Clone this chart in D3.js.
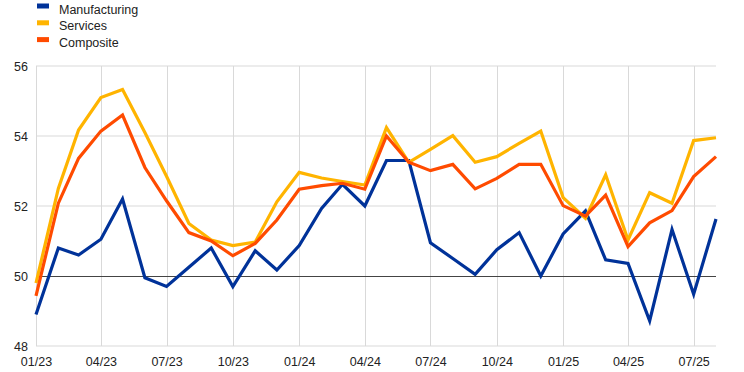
<!DOCTYPE html>
<html>
<head>
<meta charset="utf-8">
<script src="https://cdn.jsdelivr.net/npm/d3@7"></script>
<style>
  body { margin: 0; background: #fff; }
  svg { display: block; font-family: "Liberation Sans", Arial, sans-serif; }
</style>
</head>
<body>
<svg width="744" height="372"></svg>
<script>
// monthly, Jan 2023 - Aug 2025
const months = d3.timeMonths(new Date(2023, 0, 1), new Date(2025, 8, 1));
const manufacturing = [48.9, 50.8, 50.6, 51.05, 52.2, 49.95, 49.7, 50.25, 50.8, 49.7, 50.72, 50.17,
  50.87, 51.93, 52.62, 52.0, 53.3, 53.3, 50.95, 50.5, 50.05, 50.75, 51.24, 50.0,
  51.2, 51.86, 50.46, 50.36, 48.72, 51.33, 49.48, 51.63];
const services = [49.8, 52.5, 54.17, 55.1, 55.33, 54.1, 52.85, 51.5, 51.03, 50.87, 50.97, 52.12,
  52.96, 52.8, 52.7, 52.6, 54.24, 53.25, 53.62, 54.01, 53.25, 53.41, 53.79, 54.14,
  52.24, 51.65, 52.89, 51.03, 52.38, 52.08, 53.87, 53.95];
const composite = [49.43, 52.08, 53.36, 54.14, 54.6, 53.1, 52.15, 51.24, 51.0, 50.58, 50.93, 51.6,
  52.48, 52.58, 52.65, 52.48, 54.0, 53.25, 53.01, 53.19, 52.49, 52.79, 53.19, 53.19,
  52.01, 51.71, 52.31, 50.84, 51.52, 51.87, 52.84, 53.41];
const yTicks = [48, 50, 52, 54, 56];

const series = [
  { name: "Manufacturing", values: manufacturing, color: "#003299" },
  { name: "Services", values: services, color: "#ffb400" },
  { name: "Composite", values: composite, color: "#ff4b00" }
];

const svg = d3.select("svg");
const margin = { left: 36, right: 28, top: 66, bottom: 26 };
const width = 744, height = 372;

const x = d3.scaleTime()
  .domain([months[0], months[months.length - 1]])
  .range([margin.left, width - margin.right]);
const y = d3.scaleLinear()
  .domain([48, 56])
  .range([height - margin.bottom, margin.top]);

const quarterTicks = months.filter(d => d.getMonth() % 3 === 0);

// grid
const grid = svg.append("g");
grid.selectAll("line.h")
  .data(yTicks.filter(d => d !== 50))
  .join("line")
  .attr("x1", margin.left).attr("x2", width - margin.right)
  .attr("y1", d => y(d)).attr("y2", d => y(d))
  .attr("stroke", "#d9d9d9").attr("stroke-width", 1);
grid.selectAll("line.v")
  .data(quarterTicks)
  .join("line")
  .attr("x1", d => Math.round(x(d)) + 0.5).attr("x2", d => Math.round(x(d)) + 0.5)
  .attr("y1", y(56)).attr("y2", y(48))
  .attr("stroke", "#d9d9d9").attr("stroke-width", 1);
grid.append("line")
  .attr("x1", margin.left).attr("x2", width - margin.right)
  .attr("y1", Math.round(y(50)) + 0.5).attr("y2", Math.round(y(50)) + 0.5)
  .attr("stroke", "#444").attr("stroke-width", 1);

// axes
const yAxis = svg.append("g")
  .attr("transform", `translate(${margin.left},0)`)
  .call(d3.axisLeft(y).tickValues(yTicks).tickSize(0).tickPadding(8).tickFormat(d3.format("d")));
yAxis.select(".domain").remove();
yAxis.selectAll("text").attr("font-size", 12.5).attr("fill", "#222")
  .attr("font-family", "Liberation Sans, Arial, sans-serif");

const xAxis = svg.append("g")
  .attr("transform", `translate(0,${height - margin.bottom})`)
  .call(d3.axisBottom(x).tickValues(quarterTicks).tickSize(0).tickPadding(11).tickFormat(d3.timeFormat("%m/%y")));
xAxis.select(".domain").remove();
xAxis.selectAll("text").attr("font-size", 12.5).attr("fill", "#222")
  .attr("font-family", "Liberation Sans, Arial, sans-serif");

// lines
const line = d3.line()
  .x((d, i) => x(months[i]))
  .y(d => y(d));
svg.append("g").selectAll("path")
  .data(series)
  .join("path")
  .attr("d", d => line(d.values))
  .attr("fill", "none")
  .attr("stroke", d => d.color)
  .attr("stroke-width", 3.2)
  .attr("stroke-linejoin", "miter");

// legend
const legend = svg.append("g").attr("transform", "translate(37,0)");
const rows = legend.selectAll("g")
  .data(series)
  .join("g")
  .attr("transform", (d, i) => `translate(0,${6 + i * 16.8})`);
rows.append("rect")
  .attr("x", 0).attr("y", -2.5).attr("width", 12).attr("height", 5)
  .attr("fill", d => d.color);
rows.append("text")
  .attr("x", 22).attr("y", 7.5)
  .attr("font-size", 12.5).attr("fill", "#222")
  .text(d => d.name);
</script>
</body>
</html>
